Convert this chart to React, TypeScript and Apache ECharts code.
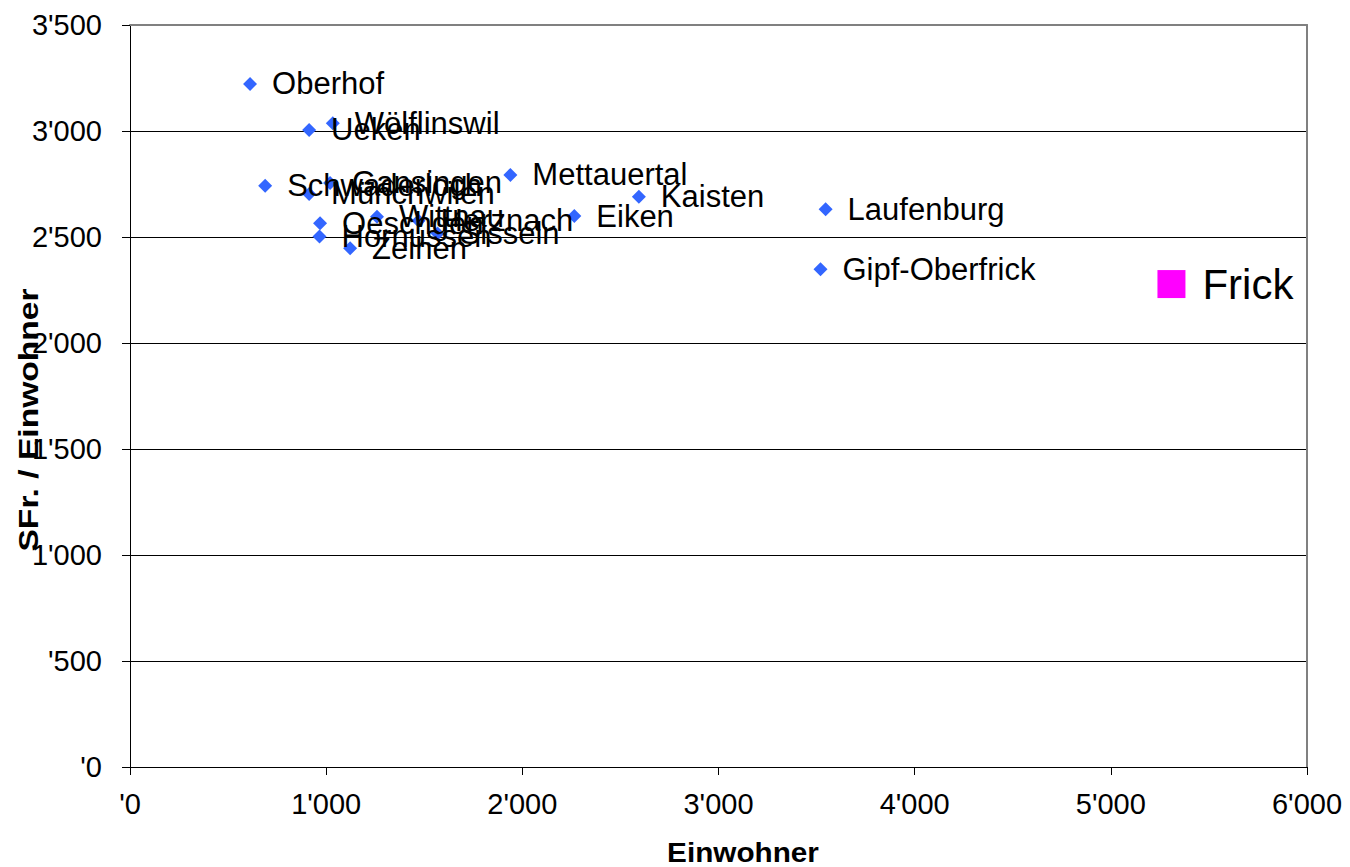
import React, { useEffect, useRef } from "react";
import * as echarts from "echarts";

const places: string[] = [
  "Oberhof", "Wölflinswil", "Ueken", "Schwaderloch", "Gansingen", "Münchwilen",
  "Mettauertal", "Kaisten", "Eiken", "Laufenburg", "Gipf-Oberfrick",
  "Oeschgen", "Hornussen", "Zeihen", "Wittnau", "Herznach", "Sisseln",
];
const einwohner: number[] = [
  612, 1034, 913, 689, 1020, 913,
  1939, 2594, 2265, 3546, 3520,
  969, 966, 1122, 1259, 1471, 1568,
];
const sfrProEinwohner: number[] = [
  3222, 3036, 3005, 2742, 2755, 2703,
  2793, 2690, 2599, 2631, 2348,
  2565, 2502, 2447, 2596, 2577, 2517,
];
const highlightName = "Frick";
const highlightEinwohner = 5309;
const highlightSfr = 2278;

const xTitle = "Einwohner";
const yTitle = "SFr. / Einwohner";

const FONT = "'Liberation Sans', Arial, sans-serif";

function fmt(v: number): string {
  const t = Math.floor(v / 1000);
  const r = Math.round(v % 1000);
  return t ? `${t}'${String(r).padStart(3, "0")}` : `'${r}`;
}

export default function App() {
  const ref = useRef<HTMLDivElement>(null);
  useEffect(() => {
    if (!ref.current) return;
    const chart = echarts.init(ref.current, undefined, { renderer: "svg" });
    const pts = places.map((n, i) => ({ name: n, value: [einwohner[i], sfrProEinwohner[i]] }));
    chart.setOption({
      animation: false,
      backgroundColor: "#ffffff",
      grid: { left: 130, top: 25, right: 43, bottom: 100, containLabel: false },
      xAxis: [
        {
          type: "value", min: 0, max: 6000, interval: 1000, position: "bottom",
          axisLine: { show: true, onZero: false, lineStyle: { color: "#000", width: 1 } },
          axisTick: { show: true, inside: false, length: 8, lineStyle: { color: "#000" } },
          axisLabel: { formatter: fmt, fontSize: 29, color: "#000", fontFamily: FONT, margin: 22 },
          splitLine: { show: false },
        },
        {
          type: "value", min: 0, max: 6000, interval: 1000, position: "top",
          axisLine: { show: true, onZero: false, lineStyle: { color: "#808080", width: 2 } },
          axisTick: { show: false }, axisLabel: { show: false }, splitLine: { show: false },
        },
      ],
      yAxis: [
        {
          type: "value", min: 0, max: 3500, interval: 500, position: "left",
          axisLine: { show: true, onZero: false, lineStyle: { color: "#000", width: 1 } },
          axisTick: { show: true, inside: false, length: 8, lineStyle: { color: "#000" } },
          axisLabel: { formatter: fmt, fontSize: 29, color: "#000", fontFamily: FONT, margin: 28 },
          splitLine: { show: true, lineStyle: { color: "#000", width: 1 } },
        },
        {
          type: "value", min: 0, max: 3500, interval: 500, position: "right",
          axisLine: { show: true, onZero: false, lineStyle: { color: "#808080", width: 2 } },
          axisTick: { show: false }, axisLabel: { show: false }, splitLine: { show: false },
        },
      ],
      series: [
        {
          type: "scatter",
          xAxisIndex: 0, yAxisIndex: 0,
          symbol: "diamond",
          symbolSize: 14,
          itemStyle: { color: "#3366FF", opacity: 1 },
          data: pts,
          label: {
            show: true, position: "right", distance: 15,
            formatter: "{b}", color: "#000", fontSize: 31, fontFamily: FONT,
          },
          labelLayout: { hideOverlap: false },
        },
        {
          type: "scatter",
          xAxisIndex: 0, yAxisIndex: 0,
          symbol: "rect",
          symbolSize: 28,
          itemStyle: { color: "#FF00FF", opacity: 1 },
          data: [{ name: highlightName, value: [highlightEinwohner, highlightSfr] }],
          label: {
            show: true, position: "right", distance: 17,
            formatter: "{b}", color: "#000", fontSize: 42, fontFamily: FONT,
          },
        },
      ],
      graphic: [
        {
          type: "text", x: 743, y: 852, scaleX: 1.1,
          style: {
            text: xTitle, fontSize: 27, lineHeight: 28, fontWeight: "bold", fontFamily: FONT, fill: "#000",
            align: "center", verticalAlign: "middle",
          },
        },
        {
          type: "text", x: 28, y: 420, rotation: Math.PI / 2, scaleX: 1.2,
          style: {
            text: yTitle, fontSize: 28, fontWeight: "bold", fontFamily: FONT, fill: "#000",
            align: "center", verticalAlign: "middle",
          },
        },
      ],
    });
    return () => chart.dispose();
  }, []);
  return (
    <div
      ref={ref}
      style={{ position: "fixed", left: 0, top: 0, width: 1350, height: 867, background: "#fff" }}
    />
  );
}
